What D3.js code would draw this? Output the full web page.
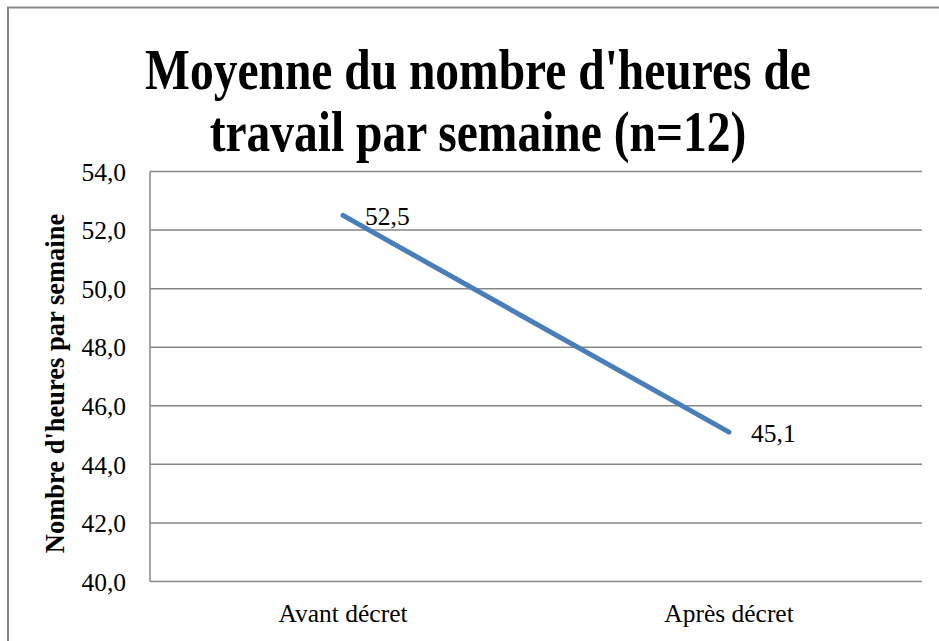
<!DOCTYPE html>
<html>
<head>
<meta charset="utf-8">
<script src="https://cdn.jsdelivr.net/npm/d3@7"></script>
<style>
  body { margin: 0; background: #fff; }
  svg text { font-family: "Liberation Serif", "Times New Roman", serif; fill: #000; }
</style>
</head>
<body>
<div id="chart"></div>
<script>

const categories = ["Avant décret", "Après décret"];
const values = [52.5, 45.1];
const labels = ["52,5", "45,1"];
const yTicks = [40, 42, 44, 46, 48, 50, 52, 54];
const titleLines = ["Moyenne du nombre d'heures de", "travail par semaine (n=12)"];

const width = 939;
const height = 641;
const margin = {top: 171.5, left: 150, right: 17, bottom: 59.5};

const svg = d3.select("#chart")
    .append("svg")
    .attr("width", width)
    .attr("height", height);

// outer frame (only top + left edges visible)
svg.append("rect")
    .attr("x", 8)
    .attr("y", 7.5)
    .attr("width", width + 20)
    .attr("height", height + 20)
    .attr("fill", "none")
    .attr("stroke", "#878787")
    .attr("stroke-width", 2);

const xScale = d3.scaleBand()
    .domain(categories)
    .range([margin.left, width - margin.right]);

const yScale = d3.scaleLinear()
    .domain([40, 54])
    .range([height - margin.bottom, margin.top]);

// gridlines
svg.append("g")
    .selectAll("line")
    .data(yTicks)
    .enter()
    .append("line")
    .attr("x1", margin.left)
    .attr("x2", width - margin.right)
    .attr("y1", d => yScale(d))
    .attr("y2", d => yScale(d))
    .attr("stroke", "#868686")
    .attr("stroke-width", 1.5);

// left axis line
svg.append("line")
    .attr("x1", margin.left)
    .attr("x2", margin.left)
    .attr("y1", margin.top)
    .attr("y2", height - margin.bottom)
    .attr("stroke", "#868686")
    .attr("stroke-width", 1.5);

const yAxis = svg.append("g")
    .attr("transform", `translate(${margin.left},0)`)
    .call(d3.axisLeft(yScale).tickValues(yTicks).tickSize(0).tickPadding(24)
        .tickFormat(d => d3.format(".1f")(d).replace(".", ",")));
yAxis.select(".domain").remove();
yAxis.selectAll("text")
    .style("font-family", "'Liberation Serif', serif")
    .style("font-size", "25.5px")
    .attr("dy", "0.34em")
    .attr("fill", "#000");

const xAxis = svg.append("g")
    .attr("transform", `translate(0,${height - margin.bottom})`)
    .call(d3.axisBottom(xScale).tickSize(0).tickPadding(0));
xAxis.select(".domain").remove();
xAxis.selectAll("text")
    .style("font-family", "'Liberation Serif', serif")
    .style("font-size", "25.5px")
    .attr("y", 40.5)
    .attr("dy", 0)
    .attr("fill", "#000");

const xPos = d => xScale(d) + xScale.bandwidth() / 2;

const line = d3.line()
    .x((d, i) => xPos(categories[i]))
    .y(d => yScale(d));

svg.append("path")
    .datum(values)
    .attr("d", line)
    .attr("fill", "none")
    .attr("stroke", "#4a7ebb")
    .attr("stroke-width", 5)
    .attr("stroke-linecap", "round");

// data labels
svg.selectAll(".dataLabel")
    .data(values)
    .enter()
    .append("text")
    .attr("class", "dataLabel")
    .attr("x", (d, i) => xPos(categories[i]) + 22)
    .attr("y", d => yScale(d) + 9.5)
    .style("font-size", "25.5px")
    .text((d, i) => labels[i]);

// title: glyphs in the original are taller than wide, so stretch vertically
const titleStretch = 1.2;
svg.append("g")
    .attr("transform", `translate(478,0) scale(1,${titleStretch})`)
    .append("text")
    .attr("text-anchor", "middle")
    .style("font-size", "47.5px")
    .style("font-weight", "bold")
    .selectAll("tspan")
    .data(titleLines)
    .enter()
    .append("tspan")
    .attr("x", 0)
    .attr("y", (d, i) => (i === 0 ? 89 : 151) / titleStretch)
    .text(d => d);

// y axis title
svg.append("text")
    .attr("x", -383.5)
    .attr("y", 64)
    .attr("text-anchor", "middle")
    .attr("transform", "rotate(-90)")
    .style("font-size", "26.5px")
    .style("font-weight", "bold")
    .text("Nombre d'heures par semaine");

</script>
</body>
</html>
